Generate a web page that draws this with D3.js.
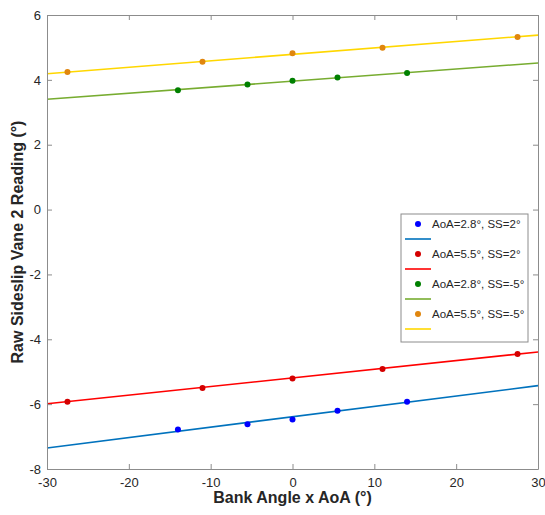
<!DOCTYPE html>
<html><head><meta charset="utf-8">
<script src="https://cdn.jsdelivr.net/npm/d3@7"></script>
<style>body{margin:0;background:#fff;} svg{display:block;}</style>
</head><body>
<svg id="c" width="545" height="515"></svg>
<script>
const seriesNames = ["AoA=2.8°, SS=2°","AoA=5.5°, SS=2°","AoA=2.8°, SS=-5°","AoA=5.5°, SS=-5°"];
const markerColors = ["#0000ff","#d40000","#008000","#e0860e"];
const lineColors = ["#0072bd","#ff0000","#77ac30","#ffd700"];
const blueX = [-14,-5.5,0,5.5,14];
const blueY = [-6.78,-6.62,-6.47,-6.20,-5.93];
const redX = [-27.5,-11,0,11,27.5];
const redY = [-5.93,-5.50,-5.21,-4.92,-4.45];
const greenX = [-14,-5.5,0,5.5,14];
const greenY = [3.68,3.86,3.97,4.07,4.21];
const orangeX = [-27.5,-11,0,11,27.5];
const orangeY = [4.24,4.56,4.82,4.99,5.32];
// fit lines: [y at x=-30, y at x=30]
const fitLines = [[-7.35,-5.43],[-5.99,-4.39],[3.40,4.52],[4.19,5.38]];
const xTicks = [-30,-20,-10,0,10,20,30];
const yTicks = [-8,-6,-4,-2,0,2,4,6];

const svg = d3.select("#c");
const L=47, R=538, T=15, B=469;
const x = d3.scaleLinear().domain([-30,30]).range([L,R]);
const y = d3.scaleLinear().domain([-8,6]).range([B,T]);
const axisColor="#8c8c8c", textColor="#262626";
const font="Helvetica, Arial, 'Liberation Sans', sans-serif";

const pts = [[blueX,blueY],[redX,redY],[greenX,greenY],[orangeX,orangeY]];
fitLines.forEach((f,i)=>{
  svg.append("line").attr("x1",x(-30)).attr("y1",y(f[0])).attr("x2",x(30)).attr("y2",y(f[1]))
    .attr("stroke",lineColors[i]).attr("stroke-width",1.6);
});
pts.forEach((p,i)=>{
  svg.selectAll(null).data(p[0].map((v,j)=>[v,p[1][j]])).enter().append("circle")
    .attr("cx",d=>x(d[0])).attr("cy",d=>y(d[1])).attr("r",3).attr("fill",markerColors[i]);
});

const fmt = d=>String(d);
const gx = svg.append("g").attr("transform",`translate(0,${B})`)
  .call(d3.axisBottom(x).tickValues(xTicks).tickSize(-5).tickPadding(9).tickSizeOuter(0).tickFormat(fmt));
const gxt = svg.append("g").attr("transform",`translate(0,${T})`)
  .call(d3.axisTop(x).tickValues(xTicks).tickSize(-5).tickFormat("").tickSizeOuter(0));
const gy = svg.append("g").attr("transform",`translate(${L},0)`)
  .call(d3.axisLeft(y).tickValues(yTicks).tickSize(-5).tickPadding(9).tickSizeOuter(0).tickFormat(fmt));
const gyr = svg.append("g").attr("transform",`translate(${R},0)`)
  .call(d3.axisRight(y).tickValues(yTicks).tickSize(-5).tickFormat("").tickSizeOuter(0));
[gx,gxt,gy,gyr].forEach(g=>{
  g.selectAll("path.domain").attr("stroke",axisColor);
  g.selectAll(".tick line").attr("stroke",axisColor);
  g.selectAll(".tick text").attr("fill",textColor).style("font-family",font).style("font-size","13px");
});
gy.selectAll(".tick text").attr("dx","3");
gx.selectAll(".tick text").attr("dy","0.71em");

svg.append("text").attr("x",(L+R)/2).attr("y",503).attr("text-anchor","middle")
  .style("font-family",font).style("font-size","16px").style("font-weight","bold").attr("fill",textColor)
  .text("Bank Angle x AoA (°)");
svg.append("text").attr("transform",`translate(23,${(T+B)/2}) rotate(-90)`).attr("text-anchor","middle")
  .style("font-family",font).style("font-size","16px").style("font-weight","bold").attr("fill",textColor)
  .text("Raw Sideslip Vane 2 Reading (°)");

const lg = svg.append("g");
lg.append("rect").attr("x",401).attr("y",214).attr("width",127).attr("height",128)
  .attr("fill","#fff").attr("stroke",axisColor).attr("stroke-width",1);
seriesNames.forEach((n,i)=>{
  const yy = 224 + i*30;
  lg.append("circle").attr("cx",418).attr("cy",yy).attr("r",3).attr("fill",markerColors[i]);
  lg.append("text").attr("x",432).attr("y",yy).attr("dy","0.35em")
    .style("font-family",font).style("font-size","11.5px").attr("fill",textColor).text(n);
  lg.append("line").attr("x1",405).attr("x2",431).attr("y1",yy+15).attr("y2",yy+15)
    .attr("stroke",lineColors[i]).attr("stroke-width",1.6);
});
</script>
</body></html>
